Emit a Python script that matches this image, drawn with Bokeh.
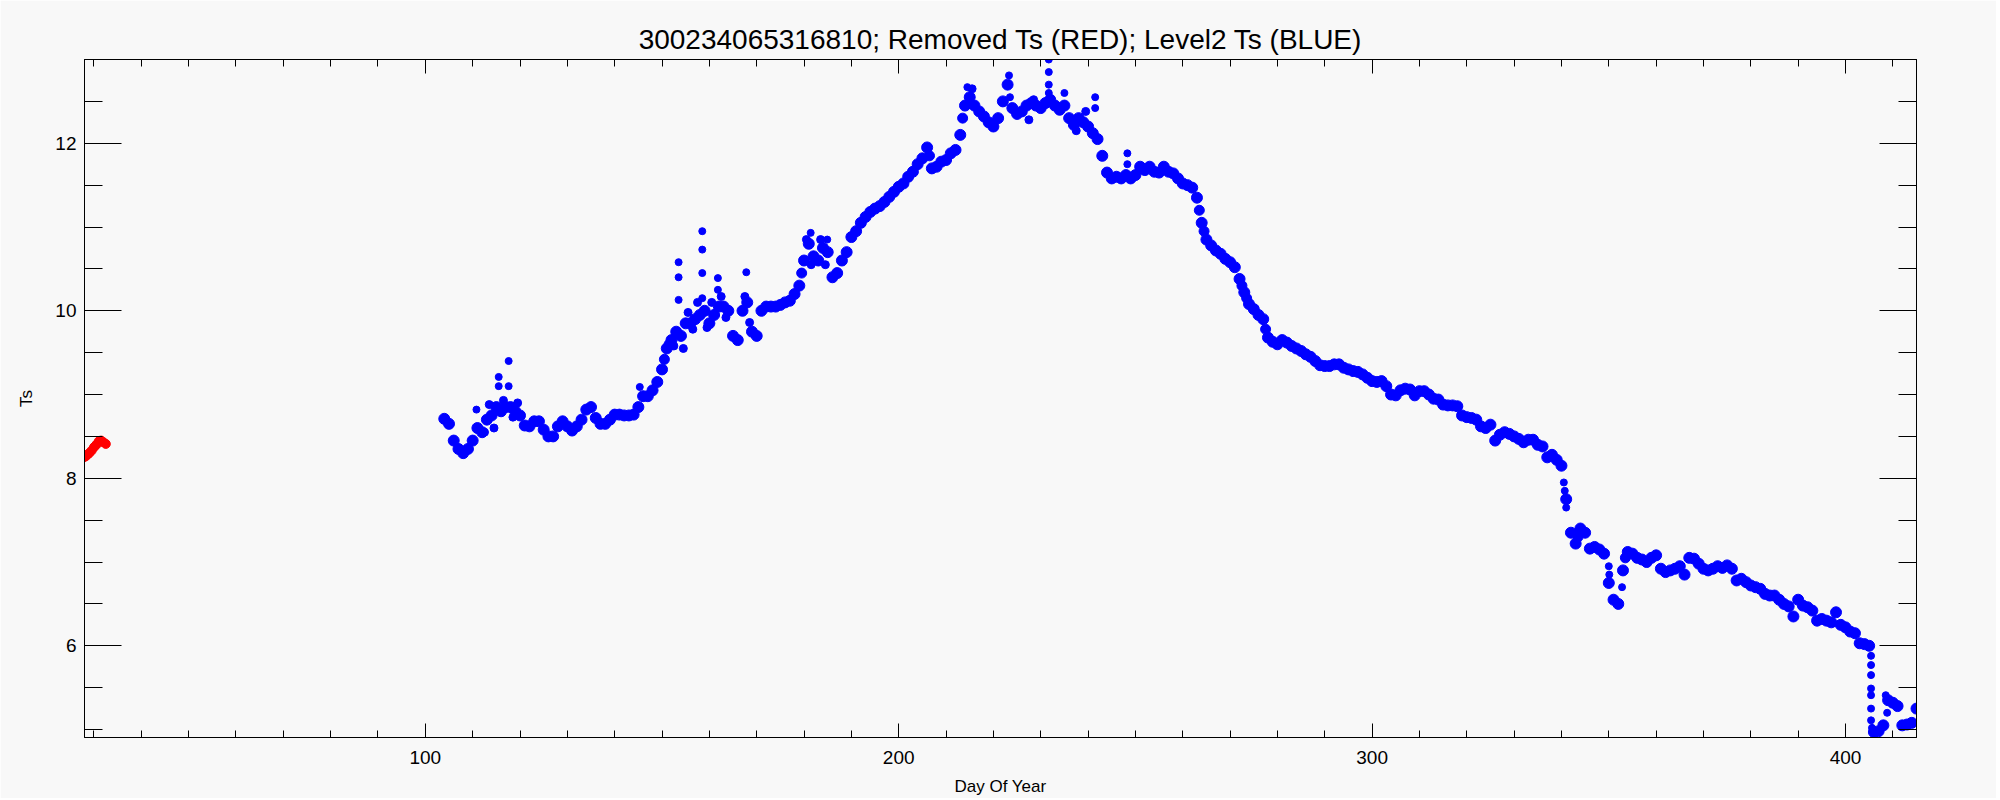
from bokeh.plotting import figure
from bokeh.models import LinearAxis, FixedTicker, Range1d
from bokeh.embed import file_html
from bokeh.resources import INLINE

title_text = "300234065316810; Removed Ts (RED); Level2 Ts (BLUE)"
x_label = "Day Of Year"
y_label = "Ts"
x_major = [100, 200, 300, 400]
x_minor = [30, 40, 50, 60, 70, 80, 90, 110, 120, 130, 140, 150, 160, 170, 180, 190,
           210, 220, 230, 240, 250, 260, 270, 280, 290, 310, 320, 330, 340, 350, 360,
           370, 380, 390, 410]
y_major = [6, 8, 10, 12]
y_minor = [5, 5.5, 6.5, 7, 7.5, 8.5, 9, 9.5, 10.5, 11, 11.5, 12.5, 13]

removed_day = [27.8, 28.2, 28.6, 29.0, 29.5, 30.0, 30.5, 31.0, 31.5, 32.0, 32.5]
removed_ts = [8.25, 8.26, 8.28, 8.30, 8.33, 8.37, 8.40, 8.44, 8.45, 8.43, 8.41]

level2_day = list(range(104, 416))
level2_ts = [
    8.71, 8.65, 8.45, 8.35, 8.30, 8.35, 8.45, 8.60, 8.55, 8.70,
    8.75, 8.85, 8.80, 8.85, 8.85, 8.80, 8.75, 8.63, 8.62, 8.68,
    8.68, 8.58, 8.50, 8.50, 8.62, 8.68, 8.62, 8.57, 8.62, 8.70,
    8.82, 8.85, 8.72, 8.65, 8.65, 8.70, 8.76, 8.76, 8.75, 8.75,
    8.76, 8.85, 8.98, 8.98, 9.05, 9.15, 9.30, 9.55, 9.65, 9.75,
    9.70, 9.85, 9.85, 9.90, 9.95, 10.00, 9.85, 9.95, 10.05, 10.05,
    10.00, 9.70, 9.65, 10.00, 10.10, 9.75, 9.70, 10.00, 10.05, 10.05,
    10.05, 10.07, 10.10, 10.12, 10.20, 10.30, 10.60, 10.80, 10.65, 10.60,
    10.75, 10.70, 10.40, 10.45, 10.60, 10.70, 10.88, 10.95, 11.05, 11.12,
    11.18, 11.22, 11.25, 11.30, 11.36, 11.42, 11.48, 11.52, 11.60, 11.66,
    11.75, 11.82, 11.95, 11.70, 11.72, 11.78, 11.80, 11.88, 11.92, 12.10,
    12.45, 12.55, 12.45, 12.38, 12.32, 12.25, 12.20, 12.30, 12.50, 12.70,
    12.42, 12.35, 12.38, 12.45, 12.48, 12.45, 12.42, 12.48, 12.52, 12.45,
    12.40, 12.45, 12.30, 12.22, 12.30, 12.25, 12.20, 12.12, 12.05, 11.85,
    11.65, 11.58, 11.60, 11.58, 11.62, 11.58, 11.62, 11.72, 11.68, 11.72,
    11.66, 11.65, 11.72, 11.66, 11.64, 11.58, 11.52, 11.50, 11.47, 11.35,
    11.05, 10.85, 10.78, 10.72, 10.68, 10.62, 10.58, 10.52, 10.38, 10.22,
    10.08, 10.02, 9.95, 9.90, 9.68, 9.63, 9.60, 9.65, 9.62, 9.58,
    9.55, 9.52, 9.48, 9.45, 9.40, 9.35, 9.34, 9.34, 9.36, 9.36,
    9.32, 9.30, 9.28, 9.27, 9.24, 9.20, 9.16, 9.15, 9.16, 9.10,
    9.00, 8.99, 9.05, 9.07, 9.06, 8.99, 9.04, 9.04, 9.00, 8.95,
    8.94, 8.88, 8.87, 8.87, 8.86, 8.75, 8.73, 8.72, 8.70, 8.62,
    8.60, 8.64, 8.45, 8.52, 8.55, 8.53, 8.50, 8.47, 8.43, 8.46,
    8.46, 8.40, 8.38, 8.25, 8.28, 8.22, 8.15, 7.75, 7.35, 7.22,
    7.40, 7.35, 7.16, 7.18, 7.15, 7.10, 6.75, 6.55, 6.50, 6.90,
    7.12, 7.10, 7.05, 7.03, 7.00, 7.05, 7.08, 6.92, 6.88, 6.90,
    6.92, 6.95, 6.85, 7.05, 7.04, 6.98, 6.92, 6.90, 6.92, 6.95,
    6.93, 6.96, 6.92, 6.78, 6.80, 6.76, 6.72, 6.70, 6.68, 6.62,
    6.60, 6.60, 6.55, 6.50, 6.47, 6.35, 6.55, 6.48, 6.46, 6.42,
    6.30, 6.32, 6.30, 6.28, 6.40, 6.25, 6.22, 6.17, 6.15, 6.03,
    6.02, 6.00, 4.97, 4.98, 5.05, 5.35, 5.32, 5.28, 5.05, 5.06,
    5.08, 5.25,
]

# readings in the steep stretches where the reference band is unbroken
steep_day = [150.5, 151.5, 179.5, 206.5, 213.5, 263.5, 264.5, 272.5, 273.5,
             277.5, 343.5, 353.5]
steep_ts = [9.42, 9.60, 10.45, 11.85, 12.30, 11.20, 10.95, 10.30, 10.15,
            9.78, 7.30, 7.05]

# upper / lower edges of the band where it is noisy and wide
band_day = [112.5, 113.5, 114.5, 116.5, 118.5, 119.5, 152.5, 154.5, 155.5,
            156.5, 157.5, 159.5, 160.5, 162.5, 163.5, 167.5, 168.5, 180.5,
            181.5, 183.5, 184.5, 215.5, 227.5, 228.5, 237.5, 239.5]
band_ts = [8.55, 8.88, 8.60, 8.93, 8.73, 8.90, 9.58, 9.55, 9.98,
           9.78, 10.10, 9.80, 10.10, 10.17, 9.92, 10.17, 9.86, 10.85,
           10.55, 10.85, 10.55, 12.65, 12.28, 12.52, 12.15, 12.38]

# isolated points: spikes and the sharp drops
extra_day = [110.8, 115.5, 115.5, 117.6, 117.6, 145.3, 153.5, 153.5, 153.5,
             158.5, 158.5, 158.5, 158.5, 161.8, 161.8, 167.8, 181.4, 184.9,
             214.5, 223.3, 223.5, 231.7, 231.7, 231.7, 231.7, 235.0, 241.5,
             241.5, 248.3, 248.3, 340.5, 340.7, 341.0, 350.0, 350.1, 352.8,
             405.4, 405.4, 405.4, 405.4, 405.4, 405.4, 405.4, 405.6, 408.5, 408.8]
extra_ts = [8.82, 9.21, 9.10, 9.40, 9.10, 9.09, 10.58, 10.40, 10.13,
            10.95, 10.73, 10.45, 10.15, 10.39, 10.25, 10.46, 10.93, 10.85,
            12.67, 12.81, 12.55, 13.0, 12.85, 12.70, 12.60, 12.60, 12.55,
            12.42, 11.88, 11.75, 7.95, 7.85, 7.65, 6.95, 6.85, 6.70,
            5.88, 5.77, 5.65, 5.49, 5.41, 5.25, 5.11, 5.02, 5.41, 5.20]

BG = "#f8f8f8"
FONT = "Liberation Sans"

p = figure(width=1996, height=798, output_backend="svg", toolbar_location=None,
           x_range=Range1d(28, 415), y_range=Range1d(4.905, 13.0),
           min_border_left=84, min_border_right=80, min_border_top=59, min_border_bottom=59,
           background_fill_color=BG, border_fill_color=BG)
p.outline_line_color = "black"
p.outline_line_width = 1
p.grid.visible = False

p.title.text = title_text
p.title.align = "center"
p.title.text_font = FONT
p.title.text_font_size = "28px"
p.title.text_font_style = "normal"
p.title.text_color = "black"

xt = FixedTicker(ticks=x_major, minor_ticks=x_minor)
yt = FixedTicker(ticks=y_major, minor_ticks=y_minor)


def style_axis(ax, ticker, major_len, minor_len, labels):
    ax.ticker = ticker
    ax.axis_line_color = "black"
    ax.major_tick_line_color = "black"
    ax.minor_tick_line_color = "black"
    ax.major_tick_in = major_len
    ax.major_tick_out = 0
    ax.minor_tick_in = minor_len
    ax.minor_tick_out = 0
    ax.major_label_text_font = FONT
    ax.major_label_text_font_size = "19px"
    ax.major_label_text_color = "black"
    ax.axis_label_text_font = FONT
    ax.axis_label_text_font_size = "17px"
    ax.axis_label_text_font_style = "normal"
    ax.axis_label_text_color = "black"
    if not labels:
        ax.major_label_text_color = None
        ax.major_label_standoff = 0


style_axis(p.xaxis[0], xt, 14, 7, True)
p.xaxis[0].axis_label = x_label
p.xaxis[0].major_label_standoff = 13
p.xaxis[0].axis_label_standoff = 10
style_axis(p.yaxis[0], yt, 37, 18, True)
p.yaxis[0].axis_label = y_label
p.yaxis[0].major_label_standoff = 8
p.yaxis[0].axis_label_standoff = 16

top_ax = LinearAxis()
style_axis(top_ax, xt, 14, 7, False)
p.add_layout(top_ax, "above")
right_ax = LinearAxis()
style_axis(right_ax, yt, 37, 18, False)
p.add_layout(right_ax, "right")

p.scatter(level2_day, level2_ts, size=11, color="#0000ff", line_color="#0000ff")
p.scatter(steep_day, steep_ts, size=10, color="#0000ff", line_color="#0000ff")
p.scatter(band_day, band_ts, size=8, color="#0000ff", line_color="#0000ff")
p.scatter(extra_day, extra_ts, size=7, color="#0000ff", line_color="#0000ff")
p.scatter(removed_day, removed_ts, size=9, color="#ff0000", line_color="#ff0000")

open("out.html", "w").write(file_html(p, INLINE))
